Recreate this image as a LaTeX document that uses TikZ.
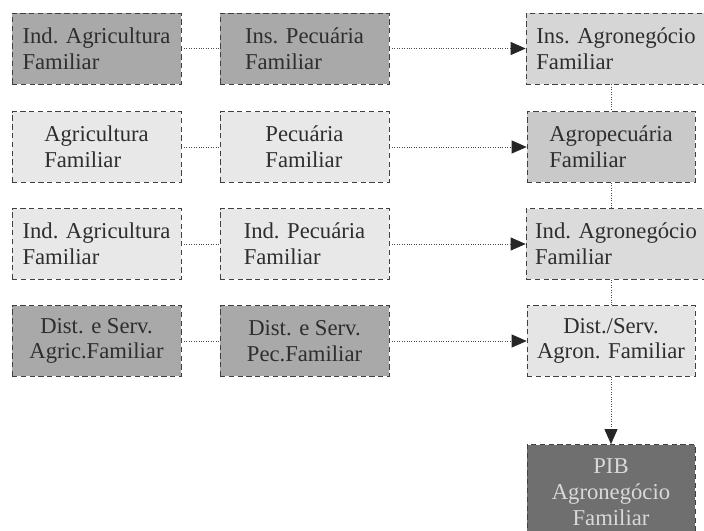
\documentclass[tikz,border=0pt]{standalone}
\usepackage{fontspec}
\setmainfont{Liberation Serif}
\usetikzlibrary{shapes,arrows.meta}
\definecolor{darkfill}{HTML}{A9A9A9}
\definecolor{lightfill}{HTML}{E8E8E8}
\definecolor{pibfill}{HTML}{6F6F6F}

\begin{document}
\begin{tikzpicture}[x=0.02cm, y=-0.02cm,
      block/.style = {
        rectangle, draw=black!75, densely dashed, thin, inner sep=0pt,
        minimum width=3.38cm, minimum height=1.42cm, text=black!82,
        font=\fontsize{12.9}{14.7}\selectfont },
      block-wide/.style = { block, minimum width=3.6cm },
      line/.style = { draw, black!70, densely dotted, thin },
      line-arrow/.style = { line, -{Triangle[length=0.3cm, width=0.26cm, color=black!85]} }]
    \useasboundingbox (0,0) rectangle (704,531);
    % row 1
    \node [block, fill=darkfill, align=left] (indagr) at (96.5, 48.5) {Ind. Agricultura\\Familiar};
    \node [block, fill=darkfill, align=left] (inspec) at (304.5, 48.5) {Ins. Pecuária\\Familiar};
    \node [block-wide, fill=black!16, align=left] (insagro) at (616, 48.5) {Ins. Agronegócio\\Familiar};
    % row 2
    \node [block, fill=lightfill, align=left] (agr) at (96.5, 147) {Agricultura\\Familiar};
    \node [block, fill=lightfill, align=left] (pec) at (304.5, 147) {Pecuária\\Familiar};
    \node [block, fill=black!21, align=left, minimum width=3.36cm] (agropec) at (611, 147) {Agropecuária\\Familiar};
    % row 3
    \node [block, fill=lightfill, align=left] (indagr2) at (96.5, 244) {Ind. Agricultura\\Familiar};
    \node [block, fill=lightfill, align=left] (indpec) at (304.5, 244) {Ind. Pecuária\\Familiar};
    \node [block-wide, fill=black!14, align=left] (indagro) at (616, 244) {Ind. Agronegócio\\Familiar};
    % row 4
    \node [block, fill=darkfill, align=center] (distagr) at (96.5, 341) {Dist. e Serv.\\Agric.Familiar};
    \node [block, fill=darkfill, align=center] (distpec) at (304.5, 341) {Dist. e Serv.\\Pec.Familiar};
    \node [block, fill=black!10, align=center, minimum width=3.36cm] (distagro) at (611, 341) {Dist./Serv.\\Agron. Familiar};
    % result
    \node [block, fill=pibfill, text=black!15, align=center, minimum width=3.36cm, minimum height=1.9cm] (pib) at (611, 492) {PIB\\Agronegócio\\Familiar};
    % connect all nodes defined above
    \draw[line] (indagr) -- (inspec);
    \draw[line-arrow] (inspec) -- (insagro);
    \draw[line] (agr) -- (pec);
    \draw[line-arrow] (pec) -- (agropec);
    \draw[line] (indagr2) -- (indpec);
    \draw[line-arrow] (indpec) -- (indagro);
    \draw[line] (distagr) -- (distpec);
    \draw[line-arrow] (distpec) -- (distagro);
    \draw[line] (insagro.south -| agropec) -- (agropec);
    \draw[line] (agropec) -- (indagro.north -| agropec);
    \draw[line] (indagro.south -| distagro) -- (distagro);
    \draw[line-arrow] (distagro) -- (pib);
  \end{tikzpicture}
\end{document}
